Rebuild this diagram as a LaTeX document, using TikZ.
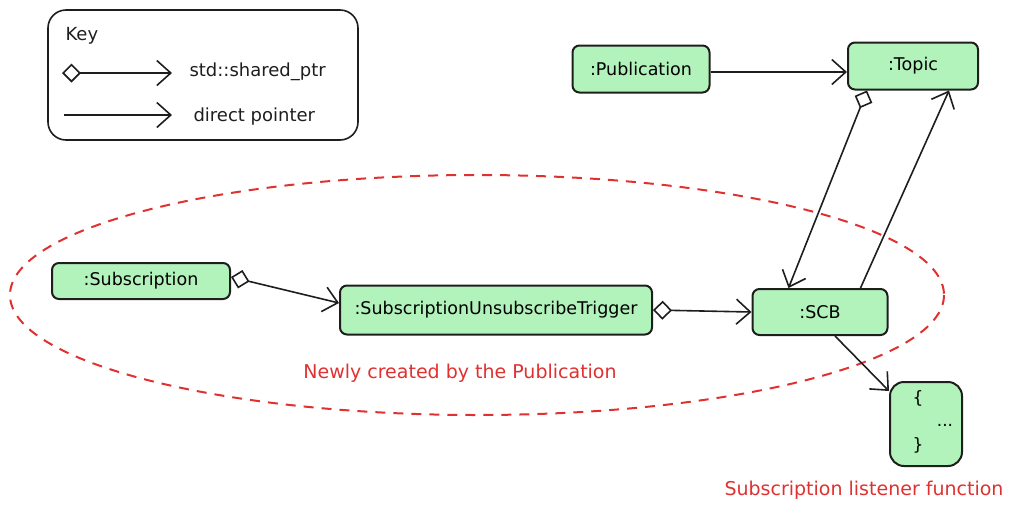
\documentclass[tikz,border=0pt]{standalone}
\usepackage{fontspec}
\setmainfont{DejaVu Sans}
\usetikzlibrary{arrows.meta,positioning}
\definecolor{pGreen}{HTML}{B2F2BB}
\definecolor{pRed}{HTML}{E03131}
\definecolor{pInk}{HTML}{1E1E1E}
\tikzset{
    obj/.style={draw=pInk, fill=pGreen, rounded corners=7pt, line width=2pt, inner sep=2pt, font=\fontsize{17.5}{20}\selectfont},
    ptr/.style={draw=pInk, line width=1.6pt, -{Straight Barb[length=14pt,width=25pt]}},
    shptr/.style={ptr, {Diamond[fill=white,length=19pt,width=19pt]}-{Straight Barb[length=14pt,width=25pt]}},
    note/.style={text=pRed, font=\fontsize{19}{22}\selectfont},
    keytext/.style={anchor=west, text=pInk, font=\fontsize{18}{21}\selectfont}
}

\begin{document}
\begin{tikzpicture}[x=1pt,y=-1pt]
\useasboundingbox (0,0) rectangle (1014,512);
% key
\node[draw=pInk, rounded corners=18pt, line width=1.6pt, minimum width=310pt, minimum height=130pt] (key) at (203,75) {};
\node[keytext] (keytitle) at (62,36) {Key};
\coordinate (k1a) at (62,73);
\coordinate (k1b) at (172,73);
\coordinate (k2a) at (64,115);
\coordinate (k2b) at (172,115);
\draw[shptr] (k1a) -- (k1b);
\draw[ptr] (k2a) -- (k2b);
\node[keytext] (k1txt) at (186,72) {std::shared\_ptr};
\node[keytext] (k2txt) at (190,117) {direct pointer};
% newly created group
\draw[pRed, line width=2pt, dash pattern=on 10pt off 8pt] (477,295) ellipse [x radius=467, y radius=120];
% objects
\node[obj, minimum width=137pt, minimum height=47pt] (pub) at (641,69) {:Publication};
\node[obj, minimum width=130pt, minimum height=47pt] (topic) at (913,66) {:Topic};
\node[obj, minimum width=178pt, minimum height=36pt] (sub) at (141,281) {:Subscription};
\node[obj, minimum width=312pt, minimum height=49pt] (sut) at (496,310) {:SubscriptionUnsubscribeTrigger};
\node[obj, minimum width=135pt, minimum height=46pt] (scb) at (820,312) {:SCB};
\node[obj, rounded corners=14pt, minimum width=72pt, minimum height=84pt] (fn) at (926,424) {};
\node[font=\fontsize{17}{20}\selectfont] (fnopen) at (918,398) {\{};
\node[font=\fontsize{17}{20}\selectfont] (fndots) at (945,425) {...};
\node[font=\fontsize{17}{20}\selectfont] (fnclose) at (918,445) {\}};
% labels
\node[note] (newly) at (460,373) {Newly created by the Publication};
\node[note] (listener) at (864,490) {Subscription listener function};
% pointers
\draw[ptr] ([yshift=-3pt]pub.east) -- ([yshift=-6pt]topic.west);
\draw[shptr] ([xshift=20pt]topic.south west) -- ([xshift=37pt]scb.north west);
\draw[ptr] ([xshift=-28pt]scb.north east) -- ([xshift=-30pt]topic.south east);
\draw[shptr] ([yshift=4pt]sub.east) -- ([yshift=7pt]sut.west);
\draw[shptr] (sut.east) -- (scb.west);
\draw[ptr] ([xshift=15pt]scb.south) -- ([yshift=-10pt]fn.north west);
\end{tikzpicture}
\end{document}
